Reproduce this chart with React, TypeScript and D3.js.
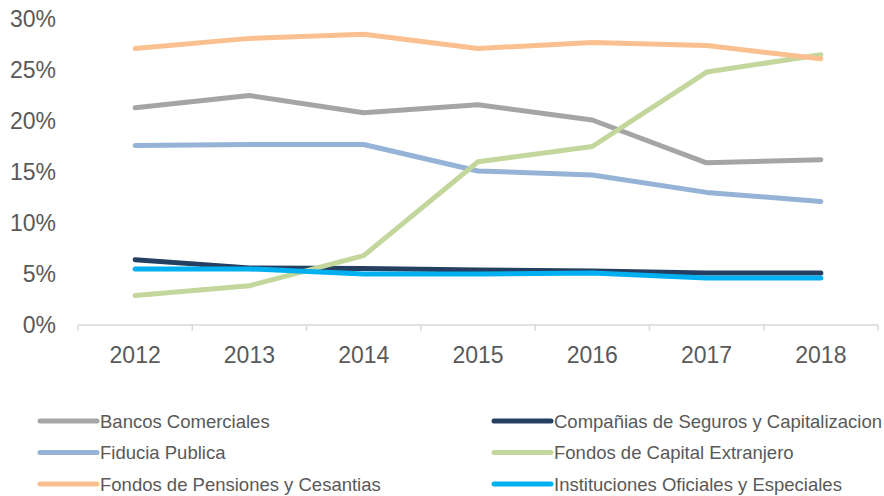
import React from 'react';
import * as d3 from 'd3';

const years = ['2012', '2013', '2014', '2015', '2016', '2017', '2018'];

const bancos = [21.3, 22.5, 20.8, 21.6, 20.1, 15.9, 16.2];
const companias = [6.4, 5.6, 5.55, 5.4, 5.3, 5.1, 5.1];
const fiducia = [17.6, 17.7, 17.7, 15.1, 14.7, 13.0, 12.1];
const capital = [2.9, 3.85, 6.8, 16.0, 17.5, 24.8, 26.5];
const pensiones = [27.1, 28.1, 28.5, 27.1, 27.7, 27.4, 26.1];
const instituciones = [5.5, 5.5, 5.0, 5.0, 5.1, 4.6, 4.6];

const yTicks = [0, 5, 10, 15, 20, 25, 30];

const series = [
  { name: 'Bancos Comerciales', values: bancos, color: '#a5a5a5' },
  { name: 'Compañias de Seguros y Capitalizacion', values: companias, color: '#243f60' },
  { name: 'Fiducia Publica', values: fiducia, color: '#95b3d7' },
  { name: 'Fondos de Capital Extranjero', values: capital, color: '#c3d69b' },
  { name: 'Fondos de Pensiones y Cesantias', values: pensiones, color: '#fac090' },
  { name: 'Instituciones Oficiales y Especiales', values: instituciones, color: '#00b0f0' },
];

const width = 884;
const height = 496;
const font = '"Liberation Sans", Arial, sans-serif';
const textColor = '#595959';

export default function App() {
  const x = d3.scaleBand().domain(years).range([78, 878]);
  const y = d3.scaleLinear().domain([0, 30]).range([325, 19]);

  const line = d3.line<number>()
    .x((_, i) => x(years[i])! + x.bandwidth() / 2)
    .y(d => y(d));

  const boundaries = d3.range(years.length + 1).map(i => 78 + i * x.step());

  return (
    <svg width={width} height={height} style={{ position: 'absolute', left: 0, top: 0, background: '#fff' }}>
      {/* y labels */}
      {yTicks.map(t => (
        <text key={t} x={56} y={y(t)} dy="0.36em" textAnchor="end"
          fontFamily={font} fontSize={23} fill={textColor}>{t}%</text>
      ))}

      {/* x axis */}
      <line x1={78} x2={878} y1={y(0)} y2={y(0)} stroke="#d9d9d9" strokeWidth={1.5} />
      {boundaries.map((b, i) => (
        <line key={i} x1={b} x2={b} y1={y(0)} y2={y(0) + 6} stroke="#d9d9d9" strokeWidth={1.5} />
      ))}
      {years.map(yr => (
        <text key={yr} x={x(yr)! + x.bandwidth() / 2} y={363} textAnchor="middle"
          fontFamily={font} fontSize={23} fill={textColor}>{yr}</text>
      ))}

      {/* lines */}
      {series.map(s => (
        <path key={s.name} d={line(s.values)!} fill="none" stroke={s.color}
          strokeWidth={5} strokeLinecap="round" strokeLinejoin="round" />
      ))}

      {/* legend */}
      {series.map((s, i) => {
        const col = i % 2;
        const row = Math.floor(i / 2);
        const lx = col === 0 ? 40 : 494;
        const ly = 421 + row * 31.5;
        return (
          <g key={s.name}>
            <line x1={lx} x2={lx + 57} y1={ly} y2={ly} stroke={s.color} strokeWidth={5} strokeLinecap="round" />
            <text x={lx + 60} y={ly} dy="0.36em" fontFamily={font} fontSize={18.5} fill={textColor}>{s.name}</text>
          </g>
        );
      })}
    </svg>
  );
}
